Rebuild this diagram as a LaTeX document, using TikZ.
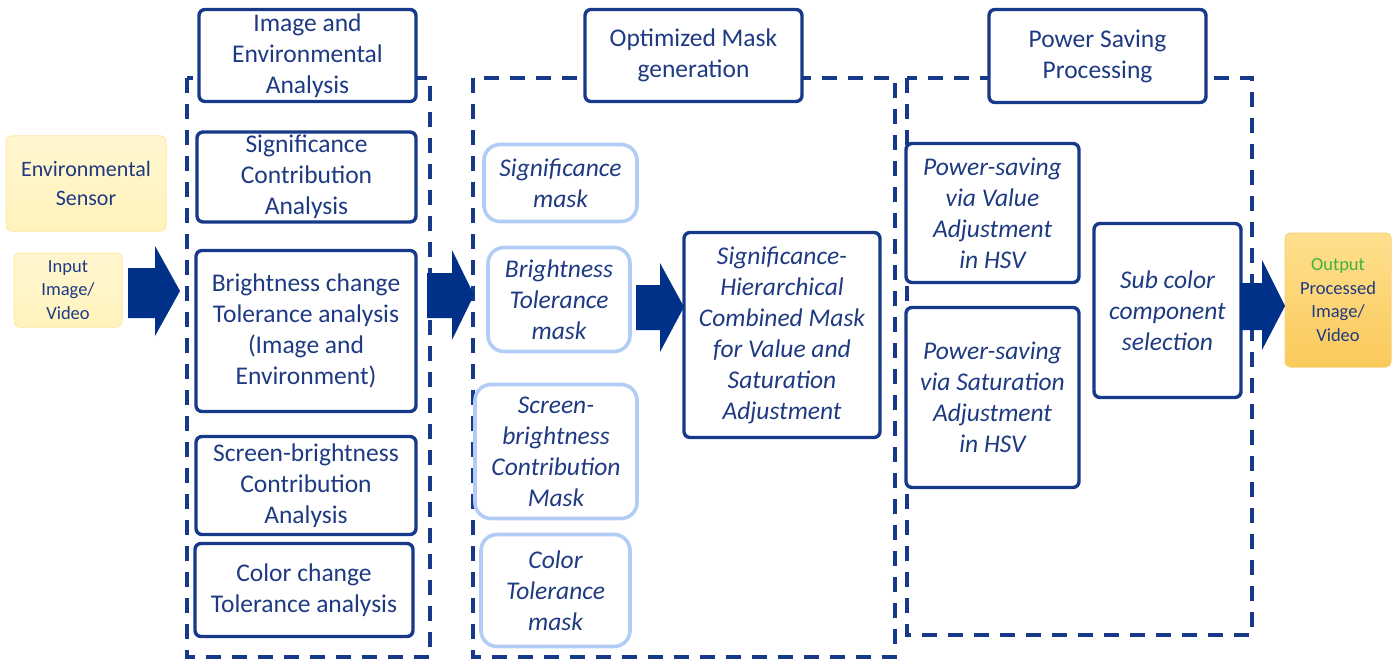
\documentclass[tikz,border=0pt]{standalone}
\usepackage{fontspec}
\setmainfont{Carlito}
\definecolor{navy}{HTML}{17398A}
\definecolor{arrowblue}{HTML}{003087}
\definecolor{txtblue}{HTML}{1E3A82}
\definecolor{lightbd}{HTML}{B2CDF5}
\definecolor{yellowfill}{HTML}{FFF3BC}
\definecolor{yellowbd}{HTML}{FBEAA6}
\definecolor{goldtop}{HTML}{FFE08E}
\definecolor{goldbot}{HTML}{FAC95A}
\definecolor{goldbd}{HTML}{F4D27A}
\definecolor{outgreen}{HTML}{3DB33D}
\tikzset{
  box/.style={draw=navy, line width=3.4pt, rounded corners=6pt, fill=white,
    text=txtblue, align=center, inner sep=0pt,
    font=\fontsize{25.5}{31}\selectfont},
  maskbox/.style={draw=lightbd, line width=3.6pt, rounded corners=16pt, fill=white,
    text=txtblue, align=center, inner sep=0pt,
    font=\fontsize{25.5}{31}\selectfont\itshape},
  ibox/.style={box, font=\fontsize{25.5}{31}\selectfont\itshape},
  dashbox/.style={draw=navy, line width=4pt, dash pattern=on 15pt off 11pt},
  blockarrow/.style={fill=arrowblue, draw=none},
  sz/.style 2 args={minimum width=#1pt, minimum height=#2pt}
}
\begin{document}
\begin{tikzpicture}[x=1pt,y=-1pt]
\useasboundingbox (0,0) rectangle (1396,663);
% dashed group frames
\draw[dashbox] (187,78) rectangle (430,657);
\draw[dashbox] (473,78) rectangle (895,657);
\draw[dashbox] (907,78) rectangle (1252,635);

% input side
\node[sz={160}{95}, draw=yellowbd, line width=1pt, rounded corners=5pt,
  top color=yellowfill!70!white, bottom color=yellowfill, text=txtblue, align=center,
  font=\fontsize{22}{29}\selectfont] (env) at (86,183.5) {Environmental\\Sensor};
\node[sz={108}{74}, draw=yellowbd, line width=1pt, rounded corners=5pt,
  top color=yellowfill!70!white, bottom color=yellowfill, text=txtblue, align=center,
  font=\fontsize{18.5}{23.5}\selectfont] (inp) at (68,290) {Input\\Image/\\Video};

% column 1
\node[box, sz={217}{92}] (t1) at (307.5,55.5) {Image and\\Environmental\\Analysis};
\node[box, sz={219}{90}] (a1) at (306.5,177) {Significance\\Contribution\\Analysis};
\node[box, sz={220}{161}] (a2) at (306,331) {Brightness change\\Tolerance analysis\\(Image and\\Environment)};
\node[box, sz={220}{98}] (a3) at (306,485.5) {Screen-brightness\\Contribution\\Analysis};
\node[box, sz={218}{93}] (a4) at (304,590) {Color change\\Tolerance analysis};

% column 2
\node[box, sz={217}{92}] (t2) at (693.5,55.5) {Optimized Mask\\generation};
\node[maskbox, sz={153}{77}] (m1) at (560.5,183) {Significance\\mask};
\node[maskbox, sz={142}{104}] (m2) at (559,299.5) {Brightness\\Tolerance\\mask};
\node[maskbox, sz={162}{134}] (m3) at (556,451.5) {Screen-\\brightness\\Contribution\\Mask};
\node[maskbox, sz={149}{112}] (m4) at (555.5,590.5) {Color\\Tolerance\\mask};
\node[ibox, sz={196}{205}] (comb) at (782,335) {Significance-\\Hierarchical\\Combined Mask\\for Value and\\Saturation\\Adjustment};

% column 3
\node[box, sz={217}{93}] (t3) at (1097.5,56) {Power Saving\\Processing};
\node[ibox, sz={173}{139}] (p1) at (992.5,213) {Power-saving\\via Value\\Adjustment\\in HSV};
\node[ibox, sz={173}{180}] (p2) at (992.5,397.5) {Power-saving\\via Saturation\\Adjustment\\in HSV};
\node[ibox, sz={147}{174}] (sub) at (1167.5,310.5) {Sub color\\component\\selection};

% output
\node[sz={106}{134}, draw=goldbd, line width=1pt, rounded corners=5pt,
  top color=goldtop, bottom color=goldbot, text=txtblue, align=center,
  font=\fontsize{18.5}{23.5}\selectfont] (out) at (1338,300)
  {\textcolor{outgreen}{Output}\\Processed\\Image/\\Video};

% block arrows
\fill[blockarrow] (128,268) -- (155,268) -- (155,246) -- (180,291) -- (155,336) -- (155,318) -- (128,318) -- cycle;
\fill[blockarrow] (427,273) -- (452,273) -- (452,250) -- (474,295) -- (452,340) -- (452,318) -- (427,318) -- cycle;
\fill[blockarrow] (636,285) -- (660,285) -- (660,263) -- (684,307) -- (660,352) -- (660,330) -- (636,330) -- cycle;
\fill[blockarrow] (1240,283) -- (1262,283) -- (1262,260) -- (1285,306) -- (1262,350) -- (1262,330) -- (1240,330) -- cycle;
\end{tikzpicture}
\end{document}
